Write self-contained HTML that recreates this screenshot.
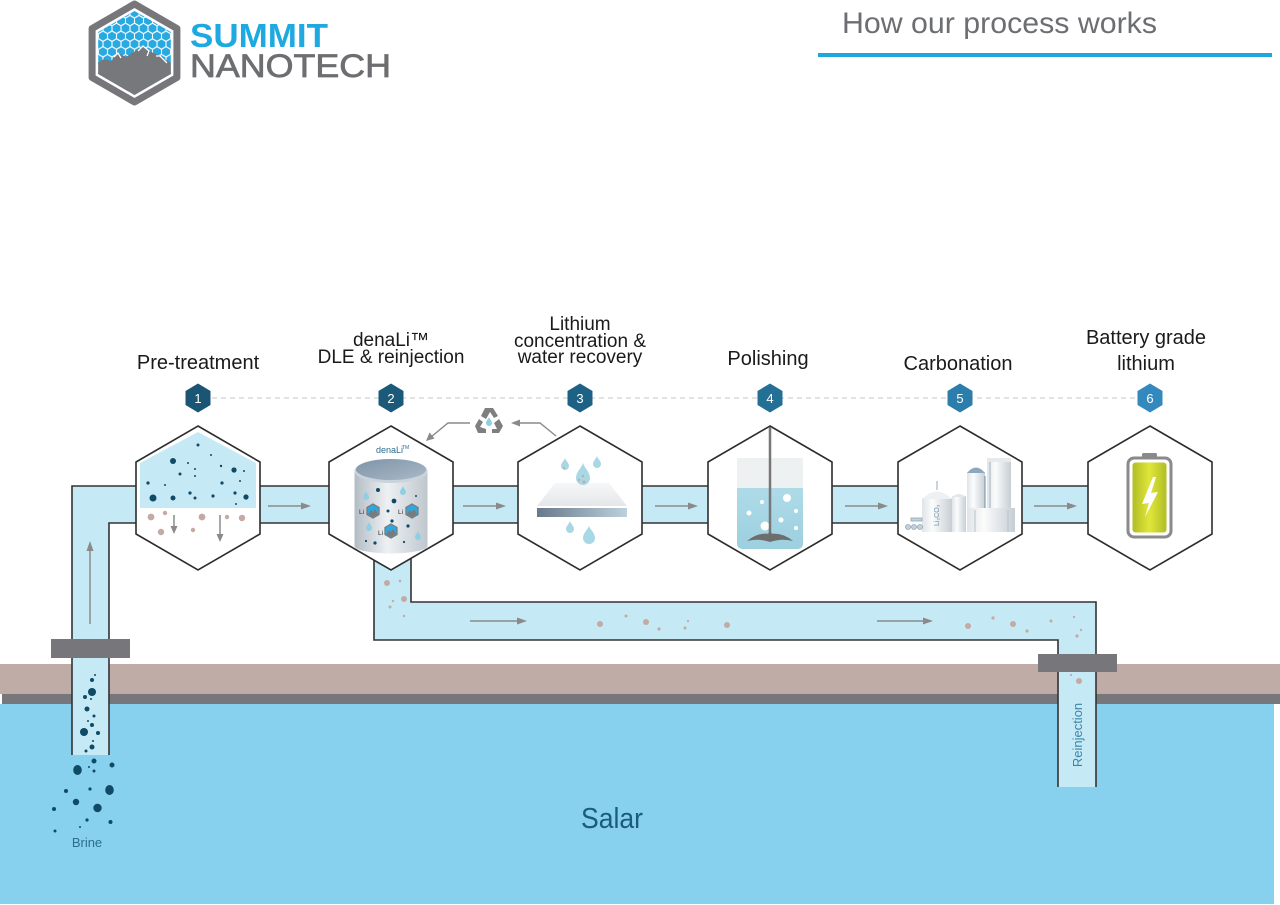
<!DOCTYPE html>
<html><head><meta charset="utf-8">
<style>html,body{margin:0;padding:0;background:#fff;}svg{display:block}</style>
</head>
<body>
<svg width="1280" height="905" viewBox="0 0 1280 905" xmlns="http://www.w3.org/2000/svg" font-family="'Liberation Sans', sans-serif">
<defs>
  <pattern id="hc" width="9" height="15.6" patternUnits="userSpaceOnUse" x="130" y="5">
    <path d="M4.5,0 V2.6 L9,5.2 V10.4 L4.5,13 V15.6 M4.5,2.6 L0,5.2 V10.4 L4.5,13" fill="none" stroke="#fff" stroke-width="1.1"/>
  </pattern>
  <clipPath id="logoclip"><polygon points="134.5,11 170.8,32 170.8,74 134.5,95 98.2,74 98.2,32"/></clipPath>
  <linearGradient id="cyl" x1="0" x2="1" y1="0" y2="0">
    <stop offset="0" stop-color="#b3bcc5"/><stop offset="0.45" stop-color="#eef1f3"/><stop offset="1" stop-color="#bfc7ce"/>
  </linearGradient>
  <linearGradient id="cyltop" x1="0" x2="1" y1="0" y2="1">
    <stop offset="0" stop-color="#7e94a8"/><stop offset="1" stop-color="#a9b9c7"/>
  </linearGradient>
  <linearGradient id="bar" x1="0" x2="1">
    <stop offset="0" stop-color="#687989"/><stop offset="1" stop-color="#bcd1de"/>
  </linearGradient>
  <linearGradient id="face" x1="0" x2="0" y1="0" y2="1">
    <stop offset="0" stop-color="#f6f7f8"/><stop offset="1" stop-color="#e4e7e9"/>
  </linearGradient>
  <linearGradient id="batt" x1="0" x2="1">
    <stop offset="0" stop-color="#b0bd26"/><stop offset="0.5" stop-color="#e0e63a"/><stop offset="1" stop-color="#b0bd26"/>
  </linearGradient>
  <linearGradient id="silo" x1="0" x2="1">
    <stop offset="0" stop-color="#dfe4e8"/><stop offset="0.35" stop-color="#fbfcfc"/><stop offset="1" stop-color="#c6ced5"/>
  </linearGradient>
  <linearGradient id="liq" x1="0" x2="0" y1="0" y2="1">
    <stop offset="0" stop-color="#afdbe8"/><stop offset="1" stop-color="#9ccfdf"/>
  </linearGradient>
</defs>

<rect x="0" y="0" width="1280" height="905" fill="#fff"/>

<!-- ground & water -->
<rect x="0" y="664" width="1280" height="30" fill="#bfaca6"/>
<rect x="2" y="694" width="1278" height="10" fill="#77777b"/>
<rect x="0" y="704" width="1274" height="200" fill="#87d1ee"/>

<!-- header -->
<g>
  <polygon points="134.5,4 176.9,28.5 176.9,77.5 134.5,102 92.1,77.5 92.1,28.5" fill="#fff" stroke="#77777b" stroke-width="7" stroke-linejoin="round"/>
  <g clip-path="url(#logoclip)">
    <rect x="90" y="5" width="90" height="100" fill="#29a9e1"/>
    <rect x="90" y="5" width="90" height="100" fill="url(#hc)"/>
    <polygon points="92,66 104,59 111,61 118,53 126,57 143,46 151,52 159,55 166,60 178,67 178,105 92,105" fill="#77787b"/>
    <polyline points="114,57 118,53 121,58" fill="none" stroke="#fff" stroke-width="1.3"/>
    <polyline points="138,51 143,46 149,51 147,56" fill="none" stroke="#fff" stroke-width="1.3"/>
    <polyline points="156,56 160,56 167,63" fill="none" stroke="#fff" stroke-width="1.3"/>
  </g>
  <text x="190" y="47" font-size="33" font-weight="bold" fill="#1fa9e1" textLength="138" lengthAdjust="spacingAndGlyphs">SUMMIT</text>
  <text x="190" y="77" font-size="32" fill="#6d6e71" stroke="#6d6e71" stroke-width="0.7" textLength="201" lengthAdjust="spacingAndGlyphs">NANOTECH</text>

  <text x="842" y="33" font-size="30" fill="#6d6e71" textLength="315" lengthAdjust="spacingAndGlyphs">How our process works</text>
  <rect x="818" y="53" width="454" height="4" fill="#1ea6de"/>
</g>

<!-- pipes -->
<polygon points="72,486 1100,486 1100,523 109,523 109,755 72,755" fill="#c6e9f6"/>
<polyline points="72,755 72,486 1100,486" fill="none" stroke="#333" stroke-width="1.6"/>
<polyline points="109,755 109,523 1100,523" fill="none" stroke="#333" stroke-width="1.6"/>

<polygon points="374,550 411,550 411,602 1096,602 1096,787 1058,787 1058,640 374,640" fill="#c6e9f6"/>
<polyline points="374,550 374,640 1058,640 1058,787" fill="none" stroke="#333" stroke-width="1.6"/>
<polyline points="411,550 411,602 1096,602 1096,787" fill="none" stroke="#333" stroke-width="1.6"/>

<!-- arrows in pipes -->
<g stroke="#8a8a8a" stroke-width="1.5" fill="#8a8a8a">
  <line x1="268" y1="506" x2="302" y2="506"/><polygon points="311,506 301,502.5 301,509.5" stroke="none"/>
  <line x1="463" y1="506" x2="497" y2="506"/><polygon points="506,506 496,502.5 496,509.5" stroke="none"/>
  <line x1="655" y1="506" x2="689" y2="506"/><polygon points="698,506 688,502.5 688,509.5" stroke="none"/>
  <line x1="845" y1="506" x2="879" y2="506"/><polygon points="888,506 878,502.5 878,509.5" stroke="none"/>
  <line x1="1034" y1="506" x2="1068" y2="506"/><polygon points="1077,506 1067,502.5 1067,509.5" stroke="none"/>
  <line x1="470" y1="621" x2="518" y2="621"/><polygon points="527,621 517,617.5 517,624.5" stroke="none"/>
  <line x1="877" y1="621" x2="924" y2="621"/><polygon points="933,621 923,617.5 923,624.5" stroke="none"/>
  <line x1="90" y1="624" x2="90" y2="550"/><polygon points="90,541 86.5,551 93.5,551" stroke="none"/>
</g>

<!-- sediment dots in return pipe -->
<g fill="#c4aaa3">
  <circle cx="387" cy="583" r="3"/><circle cx="400" cy="581" r="1.3"/><circle cx="404" cy="599" r="3"/>
  <circle cx="393" cy="601" r="1.2"/><circle cx="390" cy="607" r="1.5"/><circle cx="404" cy="616" r="1.2"/>
  <circle cx="600" cy="624" r="3"/><circle cx="626" cy="616" r="1.5"/><circle cx="646" cy="622" r="3"/>
  <circle cx="659" cy="629" r="1.6"/><circle cx="688" cy="621" r="1.1"/><circle cx="685" cy="628" r="1.5"/>
  <circle cx="727" cy="625" r="3"/>
  <circle cx="968" cy="626" r="3"/><circle cx="993" cy="618" r="1.6"/><circle cx="1013" cy="624" r="3"/>
  <circle cx="1027" cy="631" r="1.6"/><circle cx="1051" cy="621" r="1.5"/><circle cx="1074" cy="617" r="1.2"/>
  <circle cx="1081" cy="630" r="1.2"/><circle cx="1077" cy="636" r="1.6"/>
  <circle cx="1079" cy="681" r="3"/><circle cx="1071" cy="675" r="1.1"/>
</g>

<!-- flanges -->
<rect x="51" y="639" width="79" height="19" fill="#77777b"/>
<rect x="1038" y="654" width="79" height="18" fill="#77777b"/>

<!-- brine bubbles -->
<g fill="#0f4a66">
  <circle cx="92" cy="680" r="2"/><circle cx="95" cy="675" r="1"/><circle cx="92" cy="692" r="4"/>
  <circle cx="85" cy="697" r="2"/><circle cx="91" cy="699" r="1"/><circle cx="87" cy="709" r="2.5"/>
  <circle cx="94" cy="716" r="1.5"/><circle cx="92" cy="725" r="2"/><circle cx="88" cy="721" r="1"/>
  <circle cx="84" cy="732" r="4"/><circle cx="98" cy="733" r="2"/><circle cx="93" cy="741" r="1"/>
  <circle cx="92" cy="747" r="2.5"/><circle cx="86" cy="751" r="1.5"/>
  <circle cx="94" cy="761" r="2.5"/><ellipse cx="77.5" cy="770" rx="4.3" ry="5"/><circle cx="89" cy="767" r="1"/>
  <circle cx="94" cy="771" r="1.5"/><circle cx="112" cy="765" r="2.5"/><circle cx="66" cy="791" r="2"/>
  <circle cx="90" cy="789" r="1.6"/><ellipse cx="109.5" cy="790" rx="4.3" ry="5"/><circle cx="76" cy="802" r="3.2"/>
  <circle cx="54" cy="809" r="2"/><circle cx="97.5" cy="808" r="4.2"/><circle cx="87" cy="820" r="1.6"/>
  <circle cx="110.5" cy="822" r="2"/><circle cx="80" cy="827" r="1"/><circle cx="55" cy="831" r="1.5"/>
</g>

<!-- water labels -->
<text x="87" y="847" font-size="13" fill="#2b6d90" text-anchor="middle">Brine</text>
<text x="612" y="828" font-size="29" fill="#1b5b7c" text-anchor="middle" textLength="62" lengthAdjust="spacingAndGlyphs">Salar</text>
<g transform="translate(1082,735) rotate(-90)"><text x="0" y="0" font-size="13" fill="#3b84aa" text-anchor="middle">Reinjection</text></g>

<!-- dashed line -->
<line x1="212" y1="398" x2="1140" y2="398" stroke="#d2d2d2" stroke-width="1.3" stroke-dasharray="5 4"/>

<!-- number hexes -->
<g font-size="13" fill="#fff" text-anchor="middle">
  <polygon points="198,383.5 210.5,391 210.5,405 198,412.5 185.5,405 185.5,391" fill="#1a5674"/><text x="198" y="403">1</text>
  <polygon points="391,383.5 403.5,391 403.5,405 391,412.5 378.5,405 378.5,391" fill="#1b5a79"/><text x="391" y="403">2</text>
  <polygon points="580,383.5 592.5,391 592.5,405 580,412.5 567.5,405 567.5,391" fill="#1d6284"/><text x="580" y="403">3</text>
  <polygon points="770,383.5 782.5,391 782.5,405 770,412.5 757.5,405 757.5,391" fill="#236f95"/><text x="770" y="403">4</text>
  <polygon points="960,383.5 972.5,391 972.5,405 960,412.5 947.5,405 947.5,391" fill="#2b7eac"/><text x="960" y="403">5</text>
  <polygon points="1150,383.5 1162.5,391 1162.5,405 1150,412.5 1137.5,405 1137.5,391" fill="#3389bd"/><text x="1150" y="403">6</text>
</g>

<!-- step labels -->
<g font-size="20" fill="#1a1a1a" text-anchor="middle">
  <text x="198" y="369">Pre-treatment</text>
  <text x="768" y="365">Polishing</text>
  <text x="958" y="370">Carbonation</text>
  <text x="1146" y="344">Battery grade</text>
  <text x="1146" y="370">lithium</text>
</g>
<g font-size="19" fill="#1a1a1a" text-anchor="middle">
  <text x="391" y="346">denaLi™</text>
  <text x="391" y="363">DLE &amp; reinjection</text>
  <text x="580" y="330">Lithium</text>
  <text x="580" y="347">concentration &amp;</text>
  <text x="580" y="363">water recovery</text>
</g>

<!-- big hexagons -->
<g fill="#fff" stroke="#2d2d2d" stroke-width="1.6">
  <polygon points="198,426 260,462 260,534 198,570 136,534 136,462"/>
  <polygon points="391,426 453,462 453,534 391,570 329,534 329,462"/>
  <polygon points="580,426 642,462 642,534 580,570 518,534 518,462"/>
  <polygon points="770,426 832,462 832,534 770,570 708,534 708,462"/>
  <polygon points="960,426 1022,462 1022,534 960,570 898,534 898,462"/>
  <polygon points="1150,426 1212,462 1212,534 1150,570 1088,534 1088,462"/>
</g>

<!-- recycle arrows -->
<g stroke="#8a8a8a" stroke-width="1.4" fill="none">
  <polyline points="556,436 540,423 518,423"/>
  <polyline points="470,423 448,423 431,437"/>
</g>
<polygon points="511,423 520,419.5 520,426.5" fill="#8a8a8a"/>
<polygon points="426,441 429.5,432.5 434.5,438.5" fill="#8a8a8a"/>
<g fill="#7f7f7f">
  <path d="M485,408 L493,408 L498,416 L494,418 L490,412 L486,419 L481,416 Z"/>
  <path d="M499,419 L503,426 L499,433 L492,433 L492,429 L497,429 L494,423 Z"/>
  <path d="M486,433 L478,433 L475,426 L479,419 L483,422 L480,427 L486,429 Z"/>
</g>
<path d="M489,417 C489.6,419 492,421 492,423 A3,3 0 0 1 486,423 C486,421 488.4,419 489,417 Z" fill="#8fcfe3"/>

<!-- HEX 1 content -->
<polygon points="198,432 140,463 140,508 256,508 256,463" fill="#c6e9f6"/>
<g fill="#0f4a66">
  <circle cx="198" cy="445" r="1.5"/><circle cx="173" cy="461" r="3"/><circle cx="211" cy="455" r="1"/>
  <circle cx="188" cy="463" r="1"/><circle cx="195" cy="469" r="1"/><circle cx="221" cy="466" r="1.2"/>
  <circle cx="234" cy="470" r="2.6"/><circle cx="244" cy="471" r="1"/><circle cx="180" cy="474" r="1.5"/>
  <circle cx="195" cy="476" r="1"/><circle cx="222" cy="483" r="1.6"/><circle cx="148" cy="483" r="1.6"/>
  <circle cx="165" cy="485" r="1"/><circle cx="240" cy="481" r="1"/><circle cx="153" cy="498" r="3.5"/>
  <circle cx="173" cy="498" r="2.5"/><circle cx="190" cy="493" r="1.6"/><circle cx="195" cy="498" r="1.5"/>
  <circle cx="213" cy="496" r="1.6"/><circle cx="235" cy="493" r="1.6"/><circle cx="246" cy="497" r="2.6"/>
  <circle cx="236" cy="504" r="1"/>
</g>
<g fill="#c4aaa3">
  <circle cx="151" cy="517" r="3.4"/><circle cx="165" cy="513" r="2.2"/><circle cx="202" cy="517" r="3.4"/>
  <circle cx="227" cy="517" r="2.2"/><circle cx="242" cy="518" r="3.2"/><circle cx="161" cy="532" r="3.2"/>
  <circle cx="193" cy="530" r="2.2"/>
</g>
<g stroke="#8a8a8a" stroke-width="1.5" fill="#8a8a8a">
  <line x1="174" y1="515" x2="174" y2="527"/><polygon points="174,534 170.5,526 177.5,526" stroke="none"/>
  <line x1="220" y1="515" x2="220" y2="535"/><polygon points="220,542 216.5,534 223.5,534" stroke="none"/>
</g>

<!-- HEX 2 content -->
<text x="376" y="453" font-size="9" fill="#2b6d90">denaLi</text><text x="402" y="449" font-size="5" fill="#2b6d90">TM</text>
<path d="M354.5,471 V546 A36.5,7.5 0 0 0 427.5,546 V471 Z" fill="url(#cyl)"/>
<ellipse cx="391" cy="471" rx="36.5" ry="12" fill="#c9d3dc"/>
<ellipse cx="391" cy="469.5" rx="35" ry="10.5" fill="url(#cyltop)"/>
<g fill="#0f4a66">
  <circle cx="378" cy="490" r="2"/><circle cx="394" cy="501" r="2.4"/><circle cx="416" cy="496" r="1"/>
  <circle cx="388" cy="511" r="1.5"/><circle cx="392" cy="521" r="1.6"/><circle cx="408" cy="526" r="1.6"/>
  <circle cx="366" cy="541" r="1.1"/><circle cx="375" cy="543" r="1.6"/><circle cx="404" cy="542" r="1.1"/>
</g>
<g fill="#8fcfe3">
  <path d="M366,491 C366.5,493 369,495 369,497 A3,3 0 0 1 363,497 C363,495 365.5,493 366,491 Z"/>
  <path d="M403,486 C403.5,488 406,490 406,492 A3,3 0 0 1 400,492 C400,490 402.5,488 403,486 Z"/>
  <path d="M369,522 C369.5,524 372,526 372,528 A3,3 0 0 1 366,528 C366,526 368.5,524 369,522 Z"/>
  <path d="M418,531 C418.5,533 421,535 421,537 A3,3 0 0 1 415,537 C415,535 417.5,533 418,531 Z"/>
</g>
<g>
  <text x="359" y="514" font-size="6.5" fill="#333">Li</text>
  <polygon points="373,504 379,507.5 379,514.5 373,518 367,514.5 367,507.5" fill="#2fa8df" stroke="#7a7a7a" stroke-width="1.3"/>
  <polygon points="368,514 371,510 373,512 375,509 378,514 373,517" fill="#7a7a7a"/>
  <text x="398" y="514" font-size="6.5" fill="#333">Li</text>
  <polygon points="412,504 418,507.5 418,514.5 412,518 406,514.5 406,507.5" fill="#2fa8df" stroke="#7a7a7a" stroke-width="1.3"/>
  <polygon points="407,514 410,510 412,512 414,509 417,514 412,517" fill="#7a7a7a"/>
  <text x="378" y="535" font-size="6.5" fill="#333">Li</text>
  <polygon points="391,524 397,527.5 397,534.5 391,538 385,534.5 385,527.5" fill="#2fa8df" stroke="#7a7a7a" stroke-width="1.3"/>
  <polygon points="386,534 389,530 391,532 393,529 396,534 391,537" fill="#7a7a7a"/>
</g>

<!-- HEX 3 content -->
<polygon points="555,483 609,483 627,506 537,506" fill="url(#face)"/>
<rect x="537" y="508" width="90" height="9" fill="url(#bar)"/>
<g fill="#a8d7e6">
  <path d="M565,458 C566,461 569,463 569,466 A4,4 0 0 1 561,466 C561,463 564,461 565,458 Z"/>
  <path d="M597,456 C598,459 601,461 601,464 A4,4 0 0 1 593,464 C593,461 596,459 597,456 Z"/>
  <path d="M583,463 C584.5,468 590,472 590,478 A7,7 0 0 1 576,478 C576,472 581.5,468 583,463 Z"/>
  <path d="M570,521 C571,524 574,526 574,529 A4,4 0 0 1 566,529 C566,526 569,524 570,521 Z"/>
  <path d="M589,526 C590.5,530 595,533 595,538 A6,6 0 0 1 583,538 C583,533 587.5,530 589,526 Z"/>
</g>
<g fill="#c4aaa3">
  <circle cx="564" cy="468" r="1"/><circle cx="583" cy="476" r="1.2"/><circle cx="579" cy="480" r="1.2"/><circle cx="584" cy="482" r="1.5"/>
</g>

<!-- HEX 4 content -->
<rect x="737" y="458" width="66" height="88" fill="#eef1f2"/>
<path d="M737,488 H803 V543 Q803,549 797,549 H743 Q737,549 737,543 Z" fill="url(#liq)"/>
<g fill="#fff">
  <circle cx="787" cy="498" r="4"/><circle cx="762" cy="502" r="2"/><circle cx="749" cy="513" r="2.5"/>
  <circle cx="796" cy="511" r="2"/><circle cx="765" cy="526" r="4.5"/><circle cx="781" cy="520" r="2.5"/>
  <circle cx="796" cy="528" r="2"/>
</g>
<line x1="770" y1="427" x2="770" y2="537" stroke="#777" stroke-width="2.5"/>
<path d="M747,541 Q758,532 770,534 Q782,532 793,541 Q782,538 770,542 Q758,538 747,541 Z" fill="#6d6d6d"/>
<path d="M766,537 L770,531 L774,537 Z" fill="#6d6d6d"/>

<!-- HEX 5 content -->
<g>
  <rect x="987" y="458" width="24" height="74" fill="url(#silo)"/>
  <rect x="987" y="458" width="24" height="4" fill="#e6eaed"/>
  <line x1="990" y1="462" x2="990" y2="532" stroke="#9fb2c2" stroke-width="1"/>
  <rect x="967" y="472" width="18" height="60" fill="url(#silo)"/>
  <path d="M967,473 Q976,462 985,473 Z" fill="#8ea7bb"/>
  <line x1="985" y1="476" x2="985" y2="510" stroke="#6e8ea8" stroke-width="1"/>
  <rect x="967" y="508" width="48" height="24" fill="url(#silo)"/>
  <line x1="975" y1="510" x2="975" y2="532" stroke="#b8c3cc" stroke-width="1"/>
  <line x1="1008" y1="510" x2="1008" y2="532" stroke="#b8c3cc" stroke-width="1"/>
  <rect x="952" y="496" width="14" height="36" fill="url(#silo)"/>
  <path d="M952,497 Q959,491 966,497 Z" fill="#e2e7ea"/>
  <rect x="922" y="498" width="30" height="34" fill="url(#silo)"/>
  <path d="M922,499 Q937,484 952,499 Z" fill="#eef1f3"/>
  <line x1="937" y1="481" x2="937" y2="490" stroke="#9aa9b6" stroke-width="1"/>
  <text transform="translate(939,526) rotate(-90)" font-size="7" fill="#6e8ea8">Li₂CO₃</text>
  <g fill="#c4d2dc" stroke="#8fa4b4" stroke-width="0.8">
    <circle cx="908" cy="527" r="2.5"/><circle cx="914" cy="527" r="2.5"/><circle cx="920" cy="527" r="2.5"/>
    <rect x="911" y="518" width="11" height="3"/>
  </g>
</g>

<!-- HEX 6 content -->
<rect x="1142" y="453" width="15" height="6" rx="1.5" fill="#8a8a8a"/>
<rect x="1128" y="458" width="43" height="79" rx="6" fill="#fff" stroke="#8a8a8a" stroke-width="3"/>
<rect x="1132.5" y="462.5" width="34" height="70" rx="3" fill="url(#batt)"/>
<polygon points="1153,477 1142,504 1149,503 1145,517 1158,492 1151,493 1156,477" fill="#fff"/>

</svg>
</body></html>
